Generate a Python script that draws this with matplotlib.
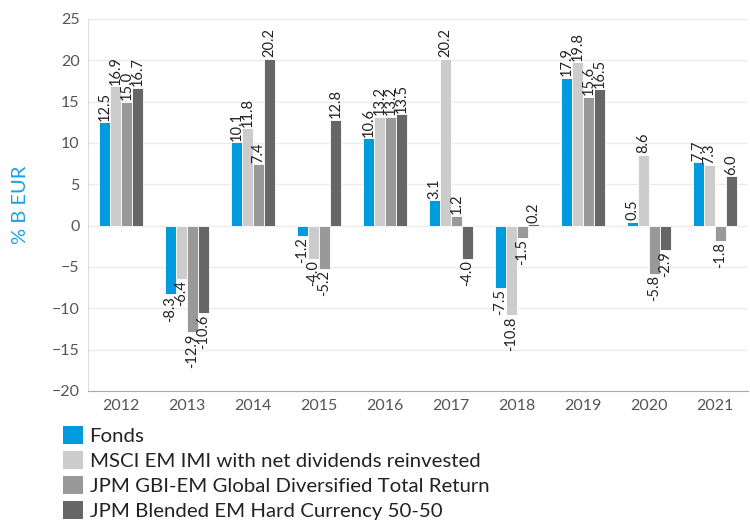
import matplotlib
matplotlib.use("Agg")
import matplotlib.pyplot as plt
import numpy as np
from matplotlib.patches import Patch

plt.rcParams['font.family'] = ['Lato', 'DejaVu Sans']

years = ['2012', '2013', '2014', '2015', '2016', '2017', '2018', '2019', '2020', '2021']
series_names = ['Fonds',
                'MSCI EM IMI with net dividends reinvested',
                'JPM GBI-EM Global Diversified Total Return',
                'JPM Blended EM Hard Currency 50-50']
fonds = [12.5, -8.3, 10.1, -1.2, 10.6, 3.1, -7.5, 17.9, 0.5, 7.7]
msci = [16.9, -6.4, 11.8, -4.0, 13.2, 20.2, -10.8, 19.8, 8.6, 7.3]
gbi = [15.0, -12.9, 7.4, -5.2, 13.2, 1.2, -1.5, 15.6, -5.8, -1.8]
blended = [16.7, -10.6, 20.2, 12.8, 13.5, -4.0, 0.2, 16.5, -2.9, 6.0]
series = [fonds, msci, gbi, blended]
colors = ['#009ADE', '#CCCCCC', '#999999', '#666666']

fig = plt.figure(figsize=(7.5, 5.21), dpi=100)
ax = fig.add_axes([88/750, 1-391/521, 660/750, (391-19)/521])

x = np.arange(len(years))
w = 0.166
for i, (vals, c) in enumerate(zip(series, colors)):
    pos = x + (i - 1.5) * w
    ax.bar(pos, vals, width=w, color=c, edgecolor='white', linewidth=0.6, zorder=3)
    for px, v in zip(pos, vals):
        txt = f'{v:.1f}'
        if v >= 0:
            ax.annotate(txt, (px, v), xytext=(0, 1), textcoords='offset points',
                        rotation=90, ha='center', va='bottom', fontsize=10.5,
                        color='#222222', zorder=4)
        else:
            ax.annotate(txt, (px, v), xytext=(0, -1), textcoords='offset points',
                        rotation=90, ha='center', va='top', fontsize=10.5,
                        color='#222222', zorder=4)

ax.set_xlim(-0.5, len(years) - 0.5)
ax.set_ylim(-20, 25)
ax.set_yticks(range(-20, 26, 5))
ax.set_xticks(x)
ax.set_xticklabels(years)
ax.tick_params(axis='both', length=0, labelsize=11.5, colors='#555555')
ax.tick_params(axis='x', pad=6)
ax.tick_params(axis='y', pad=6)
ax.grid(axis='y', color='#EBEBEB', linewidth=1, zorder=0)
for s in ['top', 'right']:
    ax.spines[s].set_visible(False)
ax.spines['left'].set_color('#DDDDDD')
ax.spines['bottom'].set_color('#AAAAAA')

fig.text(20/750, 1-205/521, '% B EUR', rotation=90, color='#1BA1E2',
         fontsize=14.5, ha='center', va='center')

handles = [Patch(facecolor=c, edgecolor='none') for c in colors]
fig.legend(handles, series_names, loc='upper left',
           bbox_to_anchor=(63/750, 1-426/521), frameon=False, fontsize=14.7,
           handlelength=1.0, handleheight=1.0, handletextpad=0.3,
           labelspacing=0.29, borderpad=0, borderaxespad=0, labelcolor='#222222')

fig.savefig('out.png', dpi=100)
